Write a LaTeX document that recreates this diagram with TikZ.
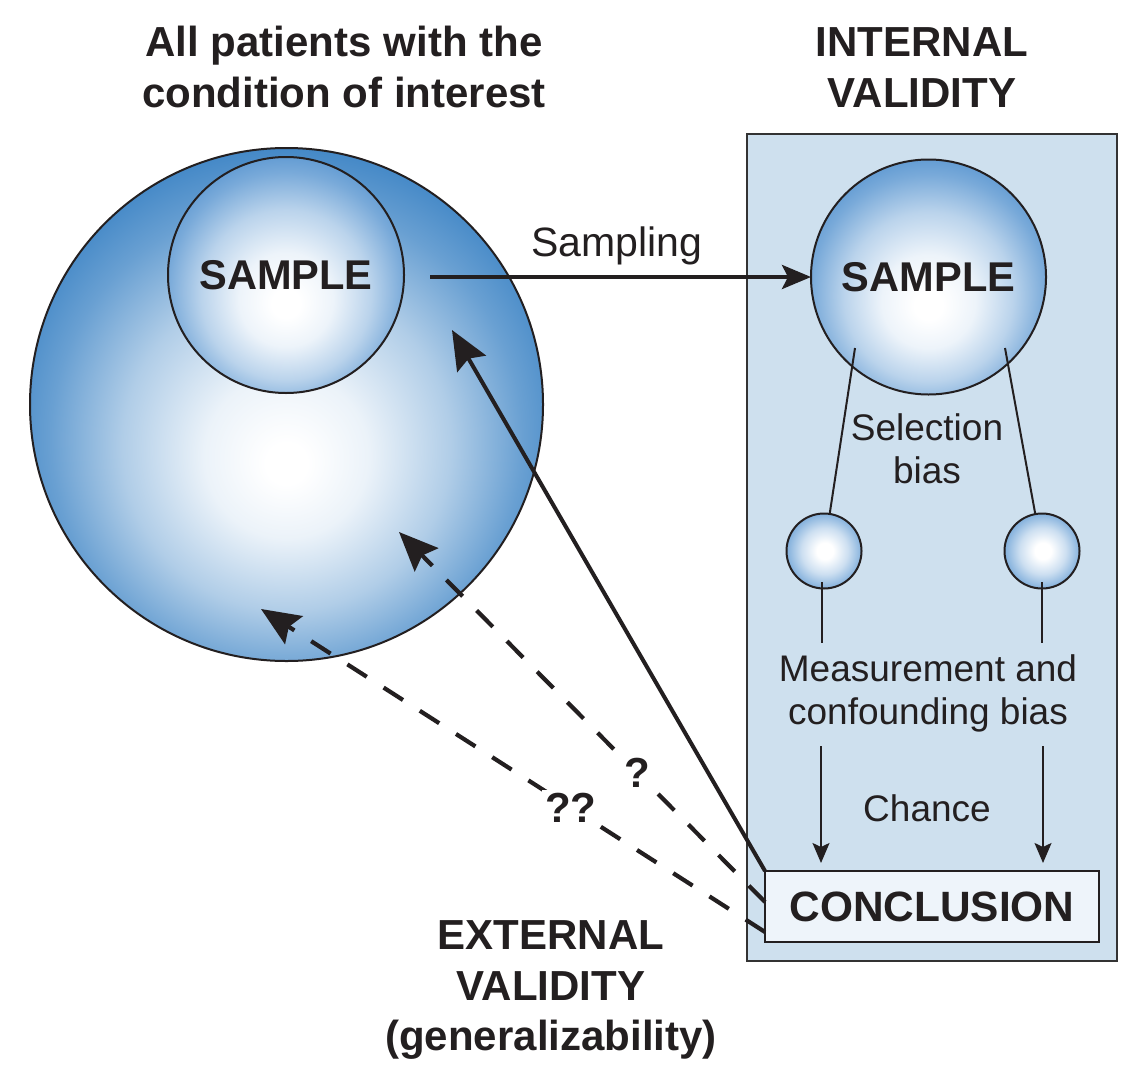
\documentclass[tikz,border=0pt]{standalone}
\usepackage{fontspec}
\setmainfont{Liberation Sans}
\usetikzlibrary{arrows.meta,calc}
\definecolor{ink}{HTML}{231F20}
\definecolor{ballblue}{HTML}{3A82C4}
\definecolor{sampblue}{HTML}{4A8CCC}
\definecolor{panelfill}{HTML}{CEE0EE}
\definecolor{panelline}{HTML}{333333}
\definecolor{conclfill}{HTML}{EEF4FA}
\pgfdeclareradialshading{bigball}{\pgfpoint{0bp}{-6bp}}{color(0bp)=(white); color(2bp)=(white); color(8bp)=(ballblue!10!white); color(16bp)=(ballblue!40!white); color(23bp)=(ballblue!76!white); color(29bp)=(ballblue); color(50bp)=(ballblue)}
\pgfdeclareradialshading{sampball}{\pgfpoint{0bp}{-6.5bp}}{color(0bp)=(white); color(3bp)=(white); color(10bp)=(sampblue!10!white); color(18bp)=(sampblue!38!white); color(25bp)=(sampblue!74!white); color(31.5bp)=(sampblue); color(50bp)=(sampblue)}
\pgfdeclareradialshading{tinyball}{\pgfpoint{0.7bp}{0bp}}{color(0bp)=(white); color(5.5bp)=(white); color(15.5bp)=(sampblue!28!white); color(25bp)=(sampblue!68!white); color(32bp)=(sampblue); color(50bp)=(sampblue)}
\begin{document}
\begin{tikzpicture}[x=0.5pt, y=-0.5pt, color=ink,
  ball/.style={circle, draw=ink, line width=1pt, inner sep=0pt, outer sep=0pt, shade},
  headtxt/.style={font=\fontsize{21}{25}\selectfont\bfseries, inner sep=0pt, anchor=base},
  bodytxt/.style={font=\fontsize{18.5}{22}\selectfont, inner sep=0pt, anchor=base},
  balltxt/.style={font=\fontsize{20.8}{24}\selectfont\bfseries},
  heavyline/.style={line width=2pt},
  thinline/.style={line width=1pt},
  bigtip/.style={-{Stealth[length=19.5pt, width=16.5pt, inset=3pt]}},
  smalltip/.style={-{Stealth[length=10pt, width=8.5pt, inset=2pt]}},
  midtip/.style={-{Stealth[length=14.5pt, width=12pt, inset=3pt]}},
  dashline/.style={line width=2.1pt, dash pattern=on 11.5pt off 10pt},
  qlabel/.style={font=\fontsize{21}{25}\selectfont\bfseries, fill=white, inner sep=1.5pt}
]
\useasboundingbox (0,0) rectangle (1144,1070);
\fill[white] (0,0) rectangle (1144,1070);

% population and its sample
\node[ball, minimum size=256.5pt, shading=bigball] (pop) at (286.5,404.5) {};
\node[ball, balltxt, minimum size=118pt, shading=sampball] (smpL) at (286,275) {SAMPLE};

% internal validity panel
\node[draw=panelline, fill=panelfill, line width=1.2pt, minimum width=185pt, minimum height=413.5pt, inner sep=0pt, outer sep=0pt] (panel) at (932,547.5) {};
\node[ball, balltxt, minimum size=117.5pt, shading=sampball] (smpR) at (928.5,277) {SAMPLE};
\node[ball, minimum size=37.5pt, shading=tinyball] (selL) at (824,551) {};
\node[ball, minimum size=37.5pt, shading=tinyball] (selR) at (1042,551) {};
\node[draw=ink, fill=conclfill, line width=1pt, minimum width=167pt, minimum height=35.5pt, inner sep=0pt, outer sep=0pt, font=\fontsize{21.2}{25}\selectfont\bfseries] (concl) at (932,906.5) {CONCLUSION};

% headings
\node[headtxt] (h1a) at (344,57) {All patients with the};
\node[headtxt] (h1b) at (344,107) {condition of interest};
\node[headtxt] (h2a) at (922,57) {INTERNAL};
\node[headtxt] (h2b) at (922,107) {VALIDITY};
\node[headtxt] (h3a) at (551,949) {EXTERNAL};
\node[headtxt] (h3b) at (551,1000) {VALIDITY};
\node[headtxt] (h3c) at (551,1050) {(generalizability)};

% panel texts
\node[bodytxt] (sel1) at (927,440) {Selection};
\node[bodytxt] (sel2) at (927,483) {bias};
\node[bodytxt] (mea1) at (928,681) {Measurement and};
\node[bodytxt] (mea2) at (928,724) {confounding bias};
\node[bodytxt] (chan) at (927,821) {Chance};

% sampling arrow
\draw[heavyline, midtip, shorten <=13pt] (smpL.east |- smpR.west) -- (smpR.west);
\node[bodytxt, font=\fontsize{20.5}{24}\selectfont] (samplab) at (617,256) {Sampling};

% selection lines
\coordinate (sL) at (855,348);
\coordinate (sR) at (1005,348);
\draw[thinline] (sL) -- (selL);
\draw[thinline] (sR) -- (selR);
\coordinate (mL1) at (822,582);
\coordinate (mL2) at (822,643);
\coordinate (mR1) at (1042,582);
\coordinate (mR2) at (1042,643);
\draw[thinline] (mL1) -- (mL2);
\draw[thinline] (mR1) -- (mR2);
\coordinate (cL) at (821,746);
\coordinate (cR) at (1043,746);
\draw[thinline, smalltip, shorten >=4pt] (cL) -- (cL |- concl.north);
\draw[thinline, smalltip, shorten >=4pt] (cR) -- (cR |- concl.north);

% external validity arrows
\coordinate (tipS) at (452,330);
\coordinate (tipD1) at (399,532);
\coordinate (tipD2) at (261,609);
\draw[heavyline, bigtip] (concl.north west) -- (tipS);
\draw[dashline, bigtip] ([yshift=2.25pt]concl.west) -- node[qlabel, pos=0.35] (q1) {?} (tipD1);
\draw[dashline, bigtip] ([yshift=-12.75pt]concl.west) -- node[qlabel, pos=0.385] (q2) {??} (tipD2);
\end{tikzpicture}
\end{document}
